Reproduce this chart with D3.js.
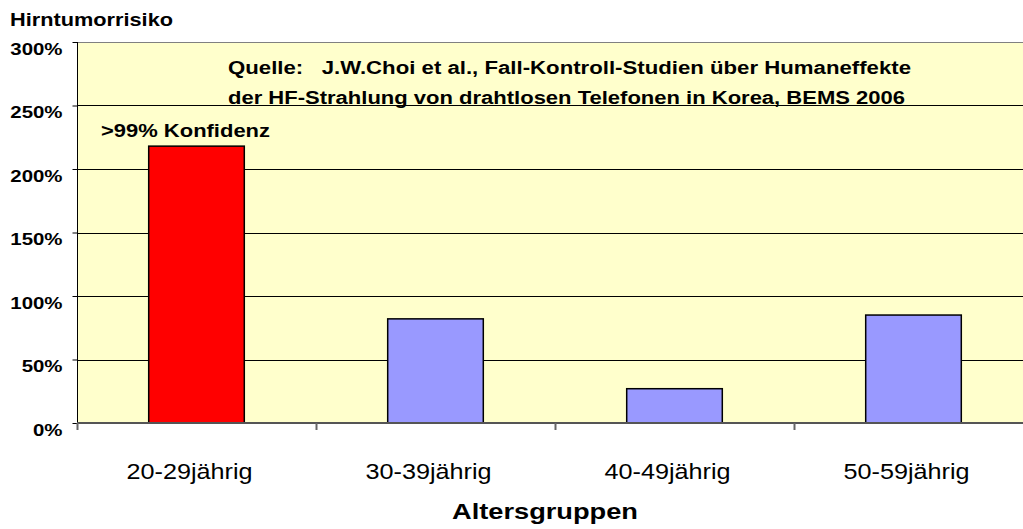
<!DOCTYPE html>
<html>
<head>
<meta charset="utf-8">
<script src="https://cdn.jsdelivr.net/npm/d3@7"></script>
<style>
  body { margin: 0; background: #fff; }
  svg text { font-family: "Liberation Sans", Arial, sans-serif; }
</style>
</head>
<body>
<svg width="1023" height="529"></svg>
<script>
// chart values
var categories = ["20-29jährig", "30-39jährig", "40-49jährig", "50-59jährig"];
var risk = [2.18, 0.82, 0.27, 0.85];
var barColors = ["#FF0000", "#9999FF", "#9999FF", "#9999FF"];
var yTicks = [0, 0.5, 1, 1.5, 2, 2.5, 3];
var sourceLines = [
  "Quelle:   J.W.Choi et al., Fall-Kontroll-Studien über Humaneffekte",
  "der HF-Strahlung von drahtlosen Telefonen in Korea, BEMS 2006"
];

var svg = d3.select("svg")
    , width = +svg.attr("width")
    , plotL = 77, plotR = 1033, plotT = 42, plotB = 423;

var x = d3.scaleBand().domain(categories).range([plotL, plotR]).paddingInner(0.6).paddingOuter(0.3);
var y = d3.scaleLinear().domain([0, 3]).range([plotB, plotT]);

// plot area
svg.append("rect").attr("x", plotL).attr("y", plotT).attr("width", width - plotL).attr("height", plotB - plotT)
    .attr("fill", "#FFFFCC");

// gridlines
svg.append("g").selectAll("line").data(yTicks.filter(function (d) { return d > 0; })).enter().append("line")
    .attr("x1", plotL).attr("x2", width)
    .attr("y1", function (d) { return Math.round(y(d)) + 0.5; })
    .attr("y2", function (d) { return Math.round(y(d)) + 0.5; })
    .attr("stroke", function (d) { return d == 3 ? "#808080" : "#000"; })
    .attr("stroke-width", 1);

// bars
svg.append("g").selectAll("rect").data(risk).enter().append("rect")
    .attr("x", function (d, i) { return x(categories[i]); })
    .attr("width", x.bandwidth())
    .attr("y", function (d) { return y(d); })
    .attr("height", function (d) { return y(0) - y(d); })
    .attr("fill", function (d, i) { return barColors[i]; })
    .attr("stroke", "#000").attr("stroke-width", 1.5);

// y axis
var yAxis = svg.append("g").attr("transform", "translate(" + (plotL + 0.5) + ",0)")
    .call(d3.axisLeft(y).tickValues(yTicks).tickFormat(d3.format(".0%")).tickSize(5).tickSizeOuter(0));
yAxis.select(".domain").remove();
yAxis.selectAll(".tick line").attr("stroke", "#000");
yAxis.append("line").attr("y1", plotT).attr("y2", plotB + 7).attr("stroke", "#000");
yAxis.selectAll(".tick text")
    .attr("x", -15).attr("dy", null).attr("y", 12)
    .attr("fill", "#000").attr("font-size", 17).attr("font-weight", "bold")
    .attr("font-family", "Liberation Sans, Arial, sans-serif")
    .each(function () {
      this.setAttribute("textLength", this.getComputedTextLength() * 1.2);
      this.setAttribute("lengthAdjust", "spacingAndGlyphs");
    });

// x axis
var xAxis = svg.append("g").attr("transform", "translate(0," + plotB + ")")
    .call(d3.axisBottom(x).tickSize(0).tickPadding(0));
xAxis.select(".domain").remove();
xAxis.append("line").attr("x1", plotL).attr("x2", width).attr("stroke", "#555").attr("stroke-width", 2);
xAxis.selectAll(".tick text")
    .attr("y", 56).attr("dy", null).attr("x", -7)
    .attr("fill", "#000").attr("font-size", 22.5)
    .attr("font-family", "Liberation Sans, Arial, sans-serif")
    .attr("textLength", 126).attr("lengthAdjust", "spacingAndGlyphs");
// category separators
xAxis.selectAll(".sep").data(categories).enter().append("line").attr("class", "sep")
    .attr("x1", function (c) { return Math.round(x(c) - x.step() * 0.3) + 0.5; })
    .attr("x2", function (c) { return Math.round(x(c) - x.step() * 0.3) + 0.5; })
    .attr("y1", 0).attr("y2", 7).attr("stroke", "#666").attr("stroke-width", 2);

// titles
svg.append("text").attr("x", 10).attr("y", 26).attr("font-size", 18).attr("font-weight", "bold")
    .attr("textLength", 163).attr("lengthAdjust", "spacingAndGlyphs").text("Hirntumorrisiko");
svg.append("text").attr("x", 545).attr("y", 519).attr("text-anchor", "middle")
    .attr("font-size", 22.5).attr("font-weight", "bold")
    .attr("textLength", 186).attr("lengthAdjust", "spacingAndGlyphs").text("Altersgruppen");

// annotations
svg.append("text").attr("x", 101).attr("y", 137).attr("font-size", 19).attr("font-weight", "bold")
    .attr("textLength", 169).attr("lengthAdjust", "spacingAndGlyphs").text(">99% Konfidenz");
svg.selectAll(".src").data(sourceLines).enter().append("text").attr("class", "src")
    .attr("x", 228).attr("y", function (d, i) { return 74 + i * 30; })
    .attr("font-size", 18).attr("font-weight", "bold").style("white-space", "pre")
    .attr("textLength", function (d, i) { return i == 0 ? 683 : 677; })
    .attr("lengthAdjust", "spacingAndGlyphs")
    .text(function (d) { return d; });
</script>
</body>
</html>
